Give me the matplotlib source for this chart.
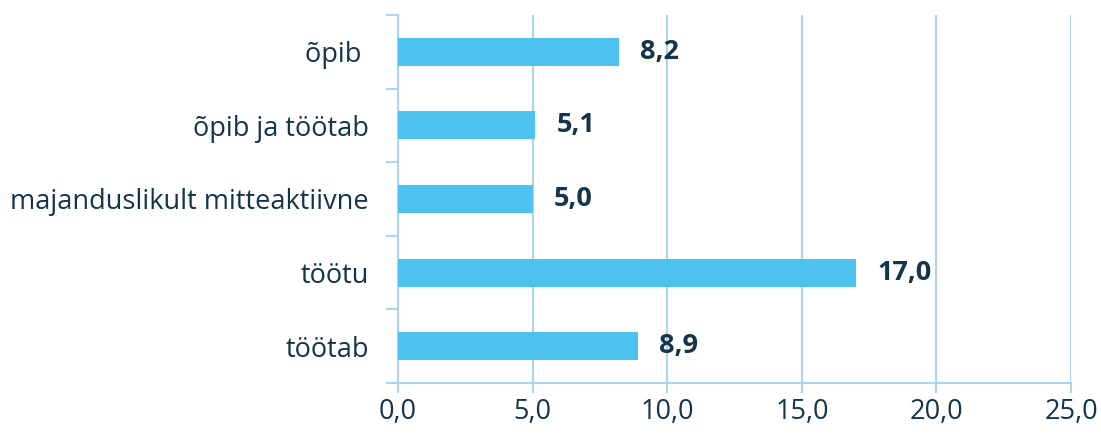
import numpy as np
import matplotlib.pyplot as plt
from matplotlib.ticker import FuncFormatter, FixedLocator

# data, top to bottom as in the picture
categories = ['õpib ', 'õpib ja töötab', 'majanduslikult mitteaktiivne', 'töötu', 'töötab']
values = [8.2, 5.1, 5.0, 17.0, 8.9]
xticks = [0, 5, 10, 15, 20, 25]

bar_color = '#4BC3EE'
line_color = '#A9D5EF'
text_color = '#14344A'

plt.rcParams['font.family'] = ['Open Sans', 'DejaVu Sans']

fig = plt.figure(figsize=(11.01, 4.36), dpi=100)
ax = fig.add_axes([0.3615, 0.1216, 0.6113, 0.844])

y = np.arange(len(categories))[::-1]
ax.barh(y, values, height=0.38, color=bar_color, zorder=3)

#value labels next to each bar
for yi, v in zip(y, values):
    ax.text(v + 0.8, yi, f'{v:.1f}'.replace('.', ','), va='center', ha='left',
            fontsize=19.5, fontweight='bold', color=text_color)

ax.set_xlim(0, 25)
ax.set_ylim(-0.5, len(categories) - 0.5)
ax.set_xticks(xticks)
ax.xaxis.set_major_formatter(FuncFormatter(lambda v, p: f'{v:.1f}'.replace('.', ',')))
ax.set_yticks(y)
ax.set_yticklabels(categories)
ax.yaxis.set_minor_locator(FixedLocator(np.arange(-0.5, len(categories), 1.0)))

ax.grid(axis='x', color=line_color, linewidth=1.5, zorder=0)
for side in ['top', 'right']:
    ax.spines[side].set_visible(False)
for side in ['left', 'bottom']:
    ax.spines[side].set_color(line_color)
    ax.spines[side].set_linewidth(1.5)

ax.tick_params(axis='x', colors=line_color, length=7, width=1.5, labelcolor=text_color,
               labelsize=19.5, pad=4)
ax.tick_params(axis='y', which='major', length=0, labelcolor=text_color, labelsize=19.5, pad=21)
ax.tick_params(axis='y', which='minor', length=9, width=1.5, colors=line_color)

plt.savefig('out.png', dpi=100)
